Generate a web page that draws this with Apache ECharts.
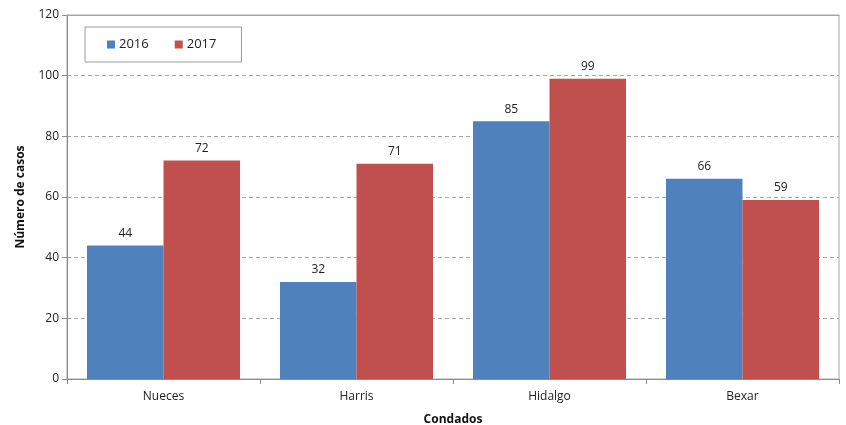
<!DOCTYPE html>
<html><head><meta charset="utf-8">
<script src="https://cdn.jsdelivr.net/npm/echarts@6/dist/echarts.min.js"></script>
<style>html,body{margin:0;padding:0;background:#fff}#c{width:846px;height:425px}</style>
</head><body><div id="c"></div>
<script>
var categories = ["Nueces", "Harris", "Hidalgo", "Bexar"];
var values2016 = [44, 32, 85, 66];
var values2017 = [72, 71, 99, 59];
var seriesNames = ["2016", "2017"];

var FONT = "'Open Sans', 'Noto Sans', sans-serif";
var chart = echarts.init(document.getElementById('c'), null, {renderer: 'canvas'});
var lbl = {show: true, position: 'top', distance: 6, color: '#222', fontSize: 12, fontFamily: FONT};
chart.setOption({
  animation: false,
  grid: {left: 67, top: 15, right: 7, bottom: 46, show: true, borderColor: '#a6a6a6', borderWidth: 1,
         containLabel: false, outerBoundsMode: 'none'},
  legend: {
    left: 85, top: 27,
    padding: [11, 25, 11, 22],
    itemGap: 26,
    itemWidth: 8, itemHeight: 8,
    borderColor: '#9a9a9a', borderWidth: 1,
    textStyle: {fontSize: 13, color: '#222', fontFamily: FONT, padding: [0, 0, 0, -1]},
    data: [{name: seriesNames[0], icon: 'rect'}, {name: seriesNames[1], icon: 'rect'}]
  },
  xAxis: [{
    type: 'category', data: categories,
    name: 'Condados', nameLocation: 'middle', nameGap: 35,
    nameTextStyle: {fontWeight: 'bold', fontSize: 12, color: '#111', fontFamily: FONT},
    axisLine: {lineStyle: {color: '#8c8c8c'}},
    axisTick: {show: true, length: 5, alignWithLabel: false, lineStyle: {color: '#8c8c8c'}},
    axisLabel: {color: '#222', fontSize: 12, fontFamily: FONT, margin: 12}
  }, {
    type: 'category', data: categories, position: 'top',
    axisLine: {show: true, lineStyle: {color: '#a6a6a6'}},
    axisTick: {show: false}, axisLabel: {show: false}, splitLine: {show: false}
  }],
  yAxis: {
    type: 'value', min: 0, max: 120, interval: 20,
    name: 'Número de casos', nameLocation: 'middle', nameGap: 40, nameRotate: 90,
    nameTextStyle: {fontWeight: 'bold', fontSize: 12, color: '#111', fontFamily: FONT},
    axisLine: {show: true, lineStyle: {color: '#8c8c8c'}},
    axisTick: {show: true, length: 5, lineStyle: {color: '#8c8c8c'}},
    axisLabel: {color: '#222', fontSize: 12, fontFamily: FONT, margin: 8},
    splitLine: {show: true, lineStyle: {color: '#a6a6a6', type: [4, 3]}}
  },
  series: [
    {name: seriesNames[0], type: 'bar', data: values2016, barGap: '0%', barCategoryGap: '20.7%',
     itemStyle: {color: '#4f81bd'}, label: lbl},
    {name: seriesNames[1], type: 'bar', data: values2017, barGap: '0%', barCategoryGap: '20.7%',
     itemStyle: {color: '#c0504d'}, label: lbl}
  ]
});
</script></body></html>
